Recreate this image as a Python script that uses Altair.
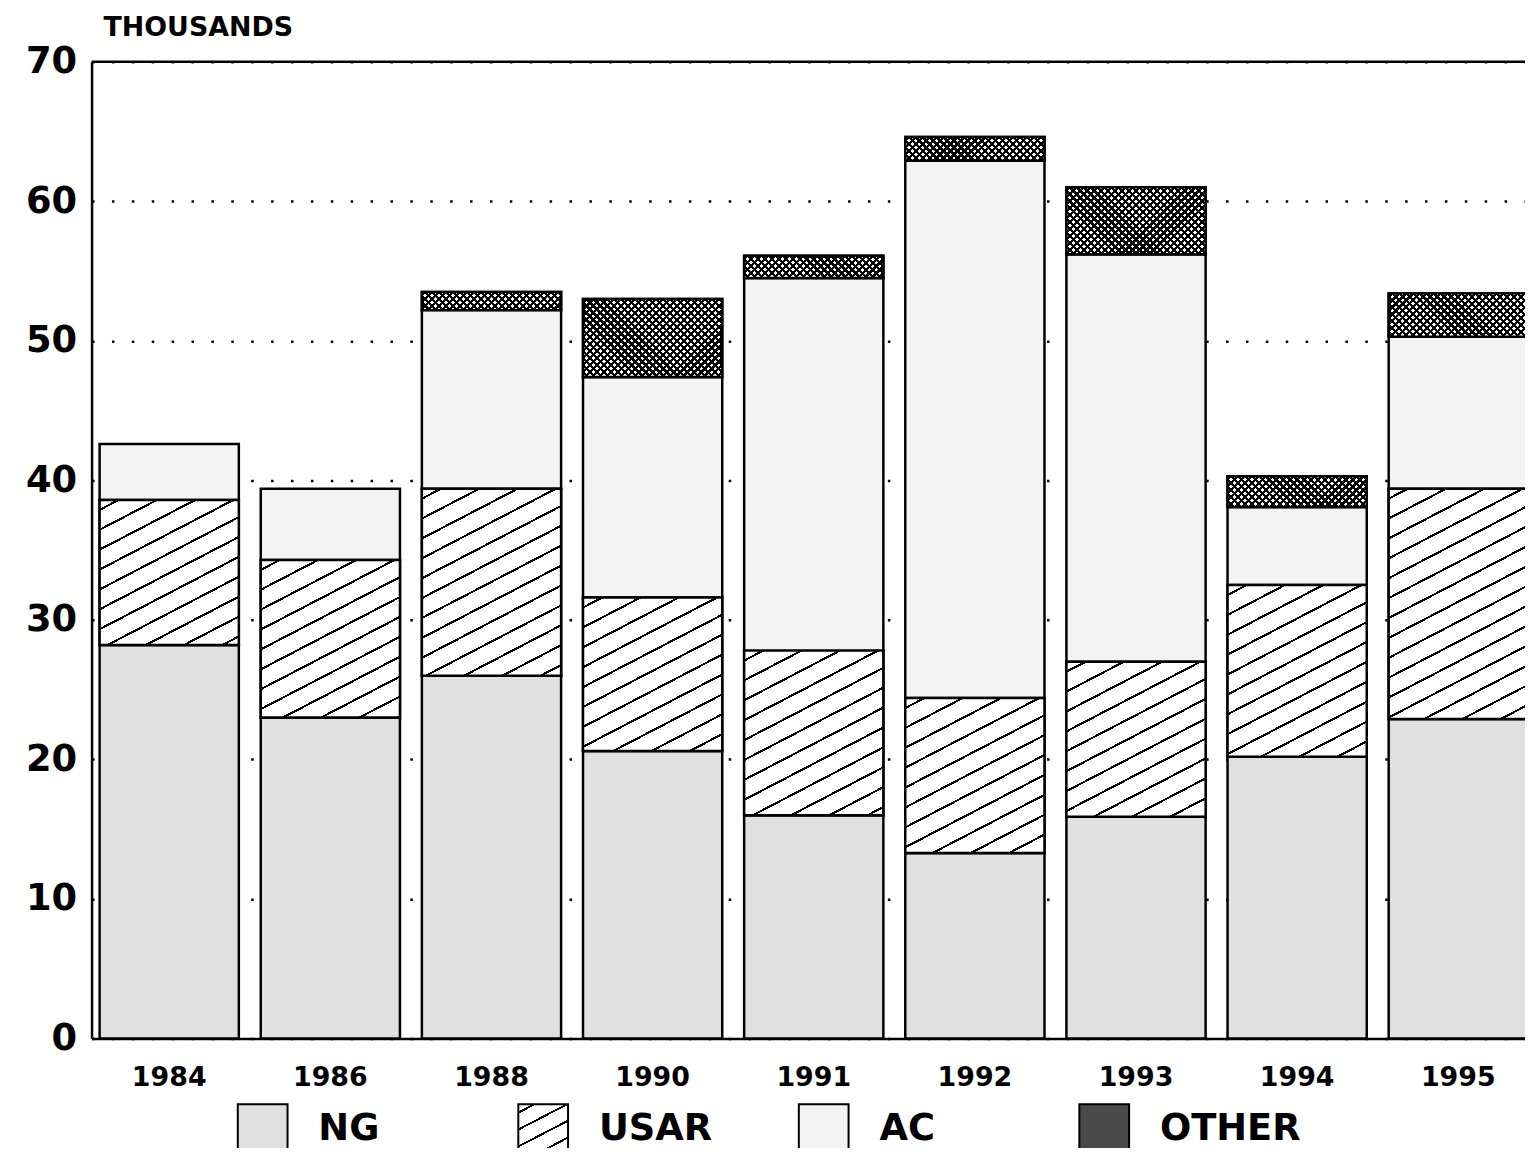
import altair as alt
import pandas as pd

# ---- data (thousands) ----
years = ["1984", "1986", "1988", "1990", "1991", "1992", "1993", "1994", "1995"]
series = ["NG", "USAR", "AC", "OTHER"]
ng = [28.2, 23.0, 26.0, 20.6, 16.0, 13.3, 15.9, 20.2, 22.9]
usar = [10.4, 11.3, 13.4, 11.0, 11.8, 11.1, 11.1, 12.3, 16.5]
ac = [4.0, 5.1, 12.8, 15.8, 26.7, 38.5, 29.2, 5.6, 10.9]
other = [0.0, 0.0, 1.3, 5.6, 1.6, 1.7, 4.8, 2.2, 3.1]
y_ticks = [0, 10, 20, 30, 40, 50, 60, 70]

rows = []
for i, yr in enumerate(years):
    base = 0.0
    for s, vals in zip(series, [ng, usar, ac, other]):
        v = vals[i]
        if v > 0:
            rows.append({"year": yr, "series": s, "lo": base, "hi": base + v, "value": v})
        base += v
df = pd.DataFrame(rows)
top_df = pd.DataFrame({"v": [70]})

FONT = "DejaVu Sans"


# ---- stripe gradients (hatch patterns) ----
def stops(n, duty, bg, fg):
    parts = []
    for i in range(n):
        a = (i + 0.5 - duty / 2) / n
        b = (i + 0.5 + duty / 2) / n
        parts += [(a, bg), (a, fg), (b, fg), (b, bg)]
    return "[" + ",".join("{offset: %.5f, color: '%s'}" % (o, c) for o, c in parts) + "]"


W = "bandwidth('x')"
H = "(scale('y', datum.lo) - scale('y', datum.hi))"


def hatch_expr(slope, period, n, duty, bg, fg, flip=False):
    c = f"({period}*{n}/({slope}*{slope}*{W}*{W} + {H}*{H}))"
    st = stops(n, duty, bg, fg)
    if not flip:
        return (f"{{gradient: 'linear', x1: 0, y1: 0, x2: {c}*{slope}*{W}, "
                f"y2: {c}*{H}, stops: {st}}}")
    return (f"{{gradient: 'linear', x1: 1, y1: 0, x2: 1 - {c}*{slope}*{W}, "
            f"y2: {c}*{H}, stops: {st}}}")


usar_expr = hatch_expr(0.52, 20, 20, 0.12, "white", "black")
other_a = hatch_expr(1, 7, 40, 0.46, "white", "black")
other_b = hatch_expr(1, 7, 40, 0.46, "rgba(0,0,0,0)", "black", flip=True)

# legend swatch for USAR (50x50 square)
lw, lh, ls, lp, ln = 50.0, 50.0, 0.52, 17.0, 6
lc = lp * ln / (ls * ls * lw * lw + lh * lh)
usar_legend = (f"{{gradient: 'linear', x1: 0, y1: 0, x2: {lc * ls * lw:.5f}, "
               f"y2: {lc * lh:.5f}, stops: {stops(ln, 0.13, 'white', 'black')}}}")

x_enc = alt.X(
    "year:N", sort=years, title=None,
    scale=alt.Scale(range=[0, 1452], paddingInner=0.136, paddingOuter=0.05),
    axis=alt.Axis(labelAngle=0, labelFont=FONT, labelFontWeight="bold", labelFontSize=27,
                  labelColor="black", labelPadding=26, ticks=False, domainColor="black",
                  domainWidth=2.5, grid=False),
)
y_enc = alt.Y(
    "lo:Q", title=None, scale=alt.Scale(domain=[0, 70], nice=False),
    axis=alt.Axis(values=y_ticks, labelFont=FONT, labelFontWeight="bold", labelFontSize=37,
                  labelColor="black", labelPadding=15, ticks=False, domainColor="black",
                  domainWidth=2.5, grid=True, gridColor="black", gridDash=[2.5, 17.5],
                  gridWidth=2.5, gridOpacity=1),
)

base = alt.Chart(df).mark_bar(stroke="black", strokeWidth=2.5).encode(
    x=x_enc,
    y=y_enc,
    y2="hi:Q",
    fill=alt.Fill(
        "series:N",
        sort=series,
        scale=alt.Scale(domain=series,
                        range=["#e0e0e0", alt.ExprRef(usar_legend), "#f3f3f3", "#4a4a4a"]),
        legend=alt.Legend(
            title=None, orient="none", legendX=146, legendY=1047, direction="horizontal",
            columns=4, symbolType="square", symbolSize=2500, symbolStrokeColor="black",
            symbolStrokeWidth=2, symbolOpacity=1, labelFont=FONT, labelFontWeight="bold",
            labelFontSize=37, labelColor="black", labelOffset=30, columnPadding=55,
            gridAlign="all", padding=0,
        ),
    ),
)

usar_layer = alt.Chart(df).transform_filter(alt.datum.series == "USAR").mark_bar(
    fill=alt.ExprRef(usar_expr), stroke="black", strokeWidth=2.5
).encode(x=alt.X("year:N", sort=years), y="lo:Q", y2="hi:Q")

other_layer_a = alt.Chart(df).transform_filter(alt.datum.series == "OTHER").mark_bar(
    fill=alt.ExprRef(other_a), strokeWidth=0
).encode(x=alt.X("year:N", sort=years), y="lo:Q", y2="hi:Q")

other_layer_b = alt.Chart(df).transform_filter(alt.datum.series == "OTHER").mark_bar(
    fill=alt.ExprRef(other_b), stroke="black", strokeWidth=2.5
).encode(x=alt.X("year:N", sort=years), y="lo:Q", y2="hi:Q")

top_rule = alt.Chart(top_df).mark_rule(color="black", strokeWidth=2.5).encode(
    y=alt.Y("v:Q")
)

chart = alt.layer(base, usar_layer, other_layer_a, other_layer_b, top_rule).properties(
    width=1441,
    height=982,
    padding={"left": 84, "top": 51, "right": 0, "bottom": 107},
    autosize=alt.AutoSizeParams(type="none"),
    title=alt.TitleParams("THOUSANDS", anchor="start", frame="group", font=FONT,
                          fontWeight="bold", fontSize=27, color="black", dx=12, offset=1),
).configure_view(stroke=None).configure(background="white")

chart.save("out.html", embed_options={"renderer": "svg", "actions": False})
